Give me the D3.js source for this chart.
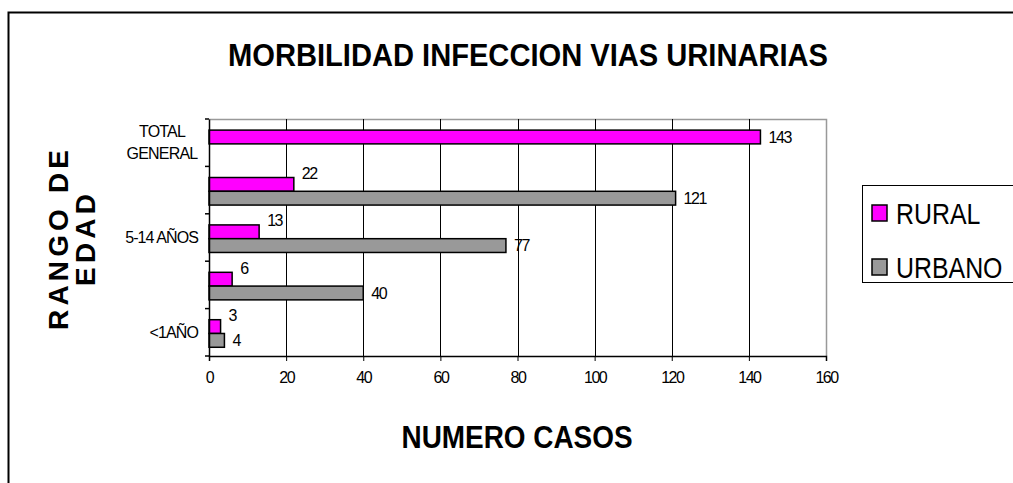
<!DOCTYPE html>
<meta charset="utf-8">
<style>
body { margin: 0; background: #fff; }
text { font-family: Arial, "Liberation Sans", sans-serif; fill: #000; }
.grid line { stroke: #000; stroke-width: 1; }
.bar { stroke: #000; stroke-width: 1.5; }
</style>
<body>
<script src="https://cdnjs.cloudflare.com/ajax/libs/d3/7.8.5/d3.min.js"></script>
<script>

// data
var categories = ["TOTAL GENERAL", "TOTAL", "5-14 AÑOS", "1-4 AÑOS", "<1AÑO"];
var shownLabels = ["TOTAL GENERAL", "", "5-14 AÑOS", "", "<1AÑO"];   // excel skips every other label
var series = ["RURAL", "URBANO"];
var rural  = [143, 22, 13, 6, 3];
var urbano = [null, 121, 77, 40, 4];
var xTicks = [0, 20, 40, 60, 80, 100, 120, 140, 160];
var colors = {RURAL: "#ff00ff", URBANO: "#999999"};

var W = 1013, H = 483;
var margin = {top: 119, left: 209, right: W - 826, bottom: H - 356};

var svg = d3.select("body").append("svg")
    .attr("width", W)
    .attr("height", H);

// outer chart frame (runs off the right/bottom edges)
svg.append("rect")
    .attr("x", 8.5).attr("y", 12.5)
    .attr("width", 1100).attr("height", 600)
    .attr("fill", "none").attr("stroke", "#000").attr("stroke-width", 2);

var x = d3.scaleLinear()
    .domain([0, 160])
    .range([margin.left, W - margin.right]);

var y = d3.scaleBand()
    .domain(categories)
    .range([margin.top, H - margin.bottom]);

var ySub = d3.scaleBand()
    .domain(series)
    .range([0, y.bandwidth()])
    .paddingOuter(0.72)
    .align(0.56);

// plot area border (grey top/right)
svg.append("path")
    .attr("d", "M" + x(0) + "," + (y.range()[0] + 0.5) + "H" + (x(160) + 0.5) + "V" + y.range()[1])
    .attr("fill", "none").attr("stroke", "#999").attr("stroke-width", 1.5);

// vertical gridlines
svg.append("g")
    .attr("class", "grid")
  .selectAll("line")
    .data(xTicks.slice(1, -1))
  .enter().append("line")
    .attr("x1", function(d) { return Math.round(x(d)) + 0.5; })
    .attr("x2", function(d) { return Math.round(x(d)) + 0.5; })
    .attr("y1", y.range()[0])
    .attr("y2", y.range()[1]);

// bars
var rows = categories.map(function(c, i) {
  return [{cat: c, s: "RURAL", v: rural[i], i: i}, {cat: c, s: "URBANO", v: urbano[i], i: i}];
});
var flat = d3.merge(rows).filter(function(d) { return d.v != null; });

svg.append("g").selectAll("rect")
    .data(flat)
  .enter().append("rect")
    .attr("class", "bar")
    .attr("x", x(0))
    .attr("y", function(d) { return y(d.cat) + ySub(d.s); })
    .attr("width", function(d) { return x(d.v) - x(0); })
    .attr("height", ySub.bandwidth())
    .attr("fill", function(d) { return colors[d.s]; });

// value labels: rural ones sit a bit higher except on the total row
svg.append("g").selectAll("text")
    .data(flat)
  .enter().append("text")
    .attr("x", function(d) { return x(d.v) + 8; })
    .attr("y", function(d) {
      var c = y(d.cat) + ySub(d.s) + ySub.bandwidth() / 2;
      if (d.s == "RURAL" && d.i > 0) c -= 11;
      return c;
    })
    .attr("dy", "0.35em")
    .style("font-size", "16px")
    .style("letter-spacing", "-1.4px")
    .text(function(d) { return d.v; });

// x axis
var xAxis = svg.append("g")
    .attr("transform", "translate(0," + y.range()[1] + ")")
    .call(d3.axisBottom(x).tickValues(xTicks).tickSize(5).tickPadding(11));
xAxis.select(".domain").attr("stroke", "#000").attr("stroke-width", 1.5);
xAxis.selectAll("text").style("font-size", "16px").style("letter-spacing", "-1.5px").attr("fill", "#000");

// y axis
var yAxis = svg.append("g")
    .attr("transform", "translate(" + x(0) + ",0)")
    .call(d3.axisLeft(y).tickSize(0).tickFormat(""));
yAxis.select(".domain").attr("stroke", "#000").attr("stroke-width", 1.5);

// category boundary ticks
svg.append("g").selectAll("line")
    .data(d3.range(categories.length + 1))
  .enter().append("line")
    .attr("x1", x(0) - 4).attr("x2", x(0))
    .attr("y1", function(i) { return y.range()[0] + i * y.step(); })
    .attr("y2", function(i) { return y.range()[0] + i * y.step(); })
    .attr("stroke", "#000").attr("stroke-width", 1.5);

// category labels
categories.forEach(function(c, i) {
  var lab = shownLabels[i];
  if (!lab) return;
  var cy = y(c) + y.bandwidth() / 2;
  var words = lab.split(" ");
  if (lab == "TOTAL GENERAL") {
    svg.append("text").attr("x", 162).attr("y", cy - 11).attr("dy", "0.35em")
      .attr("text-anchor", "middle").style("font-size", "16px").style("letter-spacing", "-0.8px").text(words[0]);
    svg.append("text").attr("x", 162).attr("y", cy + 11).attr("dy", "0.35em")
      .attr("text-anchor", "middle").style("font-size", "16px").style("letter-spacing", "-0.8px").text(words[1]);
  } else {
    svg.append("text").attr("x", 198).attr("y", cy).attr("dy", "0.35em")
      .attr("text-anchor", "end").style("font-size", "16px").style("letter-spacing", "-0.9px").text(lab);
  }
});

// title
svg.append("text")
    .attr("x", 528).attr("y", 66)
    .attr("text-anchor", "middle")
    .attr("textLength", 600).attr("lengthAdjust", "spacingAndGlyphs")
    .style("font-size", "31px").style("font-weight", "bold")
    .text("MORBILIDAD INFECCION VIAS URINARIAS");

// x axis title
svg.append("text")
    .attr("x", 517).attr("y", 448)
    .attr("text-anchor", "middle")
    .attr("textLength", 231).attr("lengthAdjust", "spacingAndGlyphs")
    .style("font-size", "31px").style("font-weight", "bold")
    .text("NUMERO CASOS");

// y axis title, two lines, letter spaced
var yt = svg.append("g").attr("transform", "translate(58,240) rotate(-90)");
yt.append("text").attr("y", 0).attr("dy", "0.35em")
    .attr("text-anchor", "middle")
    .attr("textLength", 180).attr("lengthAdjust", "spacing")
    .style("font-size", "28px").style("font-weight", "bold")
    .text("RANGO DE");
yt.append("text").attr("y", 27).attr("dy", "0.35em")
    .attr("text-anchor", "middle")
    .attr("textLength", 92).attr("lengthAdjust", "spacing")
    .style("font-size", "28px").style("font-weight", "bold")
    .text("EDAD");

// legend
var lg = svg.append("g");
lg.append("rect")
    .attr("x", 862.5).attr("y", 185.5).attr("width", 200).attr("height", 97)
    .attr("fill", "#fff").attr("stroke", "#000").attr("stroke-width", 1);
var items = lg.selectAll(".item")
    .data(series)
  .enter().append("g")
    .attr("transform", function(d, i) { return "translate(872," + (213 + i * 54) + ")"; });
items.append("rect")
    .attr("x", 0).attr("y", -8).attr("width", 15).attr("height", 16)
    .attr("fill", function(d) { return colors[d]; })
    .attr("stroke", "#000").attr("stroke-width", 1.5);
items.append("text")
    .attr("transform", "translate(24,0) scale(0.83,1)")
    .attr("dy", "0.36em")
    .style("font-size", "30px")
    .text(function(d) { return d; });

</script>
</body>
